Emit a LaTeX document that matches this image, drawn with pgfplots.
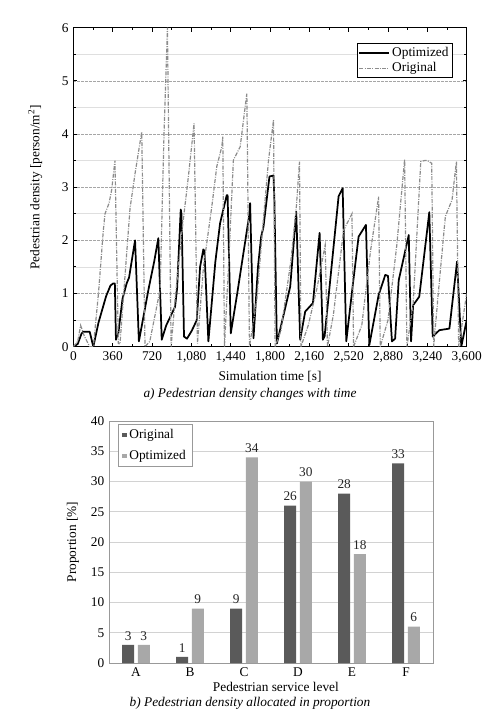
\documentclass[border=0pt]{standalone}
\usepackage{fontspec}
\setmainfont{Liberation Serif}
\usepackage{pgfplots}
\usepackage{pgfplotstable}
\pgfplotsset{compat=1.18}
\definecolor{darkbar}{HTML}{5A5A5A}
\definecolor{lightbar}{HTML}{A8A8A8}
\definecolor{origline}{HTML}{8C8C8C}

\pgfplotstableread{
t v
0 0
40 0.05
76 0.25
92 0.28
150 0.28
183 0
230 0.45
300 0.95
340 1.15
366 1.19
380 1.19
390 0.13
400 0.2
410 0.22
450 0.9
488 1.19
500 1.25
510 1.3
565 2.0
600 0.1
690 1.1
740 1.6
778 2.04
809 0.13
850 0.4
931 0.75
950 1.1
983 2.58
990 2.5
1013 0.19
1040 0.15
1084 0.3
1130 0.5
1160 1.5
1190 1.83
1200 1.8
1236 0.1
1300 1.6
1343 2.32
1404 2.85
1412 2.85
1441 0.25
1500 1.0
1612 2.5
1618 2.7
1649 0.16
1690 1.5
1719 2.07
1740 2.25
1795 3.2
1832 3.22
1840 2.76
1863 0.06
1985 1.13
2040 2.54
2076 0.13
2122 0.66
2193 0.82
2254 2.14
2284 0.13
2300 0.2
2428 2.83
2465 2.98
2498 0.1
2560 1.2
2611 2.07
2678 2.29
2709 0.03
2794 0.97
2855 1.35
2880 1.33
2916 0.1
2945 0.15
2978 1.25
3070 2.1
3091 0.1
3110 0.78
3166 0.94
3258 2.53
3289 0.19
3350 0.31
3442 0.34
3512 1.6
3551 0
3600 0.5
}\optdata

\pgfplotstableread{
t v
0 0
40 0.1
67 0.4
100 0.2
150 0
183 0
230 1.0
275 2.2
290 2.5
327 2.7
351 2.95
381 3.5
412 0.06
427 0.05
488 1.75
519 2.6
565 3.26
626 4.04
656 0
700 0.1
733 0.44
794 1.07
830 4.0
861 6.0
895 0
931 0.88
992 2.13
1053 3.2
1105 4.2
1136 0.06
1191 1.5
1267 2.63
1313 3.39
1359 3.76
1368 3.95
1383 0
1420 1.5
1465 3.51
1527 3.76
1588 4.76
1612 0
1679 0.88
1740 2.4
1786 3.5
1832 4.26
1847 0
1900 0.3
1990 1.6
2040 2.6
2070 3.48
2083 0
2150 0.4
2230 1.1
2305 1.91
2326 0
2380 0.6
2474 2.19
2550 2.5
2565 0
2640 0.4
2720 1.8
2794 2.82
2809 0
2880 0.5
2960 1.9
3032 3.52
3053 0
3110 0.8
3180 3.48
3213 3.5
3240 3.5
3280 3.45
3298 0
3340 1.0
3405 2.45
3466 2.76
3506 3.48
3527 0
3600 1.0
}\origdata

\pgfplotstableread{
x orig opt
0 3 3
1 1 9
2 9 34
3 26 30
4 28 18
5 33 6
}\bardata

\begin{document}
\begin{tikzpicture}
\path[use as bounding box] (0,0) rectangle (375pt,-537pt);

% ---------- top chart ----------
\begin{axis}[
  at={(55pt,-260pt)}, anchor=south west,
  scale only axis, width=295pt, height=239.25pt,
  xmin=0, xmax=3600, ymin=0, ymax=6,
  xtick={0,360,...,3600}, ytick={0,1,...,6},
  minor x tick num=1, minor y tick num=1,
  tick align=inside,
  major tick length=3pt, minor tick length=2pt,
  axis line style={black, line width=0.9pt},
  every tick/.style={black, line width=0.7pt},
  ymajorgrids, yminorgrids,
  major grid style={gray!70, dash pattern=on 2pt off 1pt, line width=0.5pt},
  minor grid style={gray!25, line width=0.5pt},
  /pgf/number format/.cd, 1000 sep={,}, assume math mode=true,
  /pgfplots/.cd,
  tick label style={font=\fontsize{10}{12}\selectfont},
  xlabel={Simulation time [s]},
  ylabel={Pedestrian density [person/m\textsuperscript{2}]},
  xlabel style={at={(axis description cs:0.5,-0.094)}, anchor=center, font=\fontsize{10}{12}\selectfont},
  ylabel style={at={(axis description cs:-0.097,0.5)}, anchor=center, font=\fontsize{10}{12}\selectfont},
  legend style={at={(axis description cs:0.965,0.952)}, anchor=north east,
    draw=black, line width=0.6pt, font=\fontsize{10}{12}\selectfont,
    inner sep=1pt, row sep=-1pt, fill=white},
  legend cell align=left,
  legend image code/.code={\draw[#1] (0pt,0pt) -- (22pt,0pt);},
]
\addplot[black, line width=1.3pt, line join=round] table[x=t,y=v] {\optdata};
\addlegendentry{Optimized}
\addplot[origline, line width=0.9pt, dash pattern=on 3pt off 1pt on 0.7pt off 1pt] table[x=t,y=v] {\origdata};
\addlegendentry{Original}
\end{axis}

\node[font=\itshape\fontsize{10}{12}\selectfont] at (187.5pt,-295.5pt) {a) Pedestrian density changes with time};

% ---------- bottom chart ----------
\begin{axis}[
  at={(81.75pt,-497.25pt)}, anchor=south west,
  scale only axis, width=243pt, height=181.5pt,
  ybar=2.7pt, bar width=9pt,
  xmin=-0.5, xmax=5.5, ymin=0, ymax=40,
  xtick=data, xticklabels={A,B,C,D,E,F},
  ytick={0,5,...,40},
  major tick length=0pt,
  axis line style={gray!80, line width=0.6pt},
  ymajorgrids,
  major grid style={gray!35, line width=0.7pt},
  /pgf/number format/assume math mode=true,
  tick label style={font=\fontsize{10}{12}\selectfont},
  xlabel={Pedestrian service level},
  ylabel={Proportion [\%]},
  xlabel style={at={(axis description cs:0.515,-0.099)}, anchor=center, font=\fontsize{10}{12}\selectfont},
  ylabel style={at={(axis description cs:-0.111,0.5)}, anchor=center, font=\fontsize{10}{12}\selectfont},
  nodes near coords,
  nodes near coords style={font=\fontsize{10}{12}\selectfont, black!85},
  legend style={at={(axis description cs:0.028,0.988)}, anchor=north west,
    draw=gray!80, line width=0.6pt, font=\fontsize{10}{12}\selectfont,
    inner xsep=3pt, inner ysep=2pt, row sep=3pt, fill=white},
  legend cell align=left,
  legend image code/.code={\fill[#1] (1pt,-1.6pt) rectangle (4.2pt,1.6pt);},
]
\addplot[fill=darkbar, draw=none] table[x=x,y=orig] {\bardata};
\addlegendentry{Original}
\addplot[fill=lightbar, draw=none] table[x=x,y=opt] {\bardata};
\addlegendentry{Optimized}
\end{axis}

\node[font=\itshape\fontsize{10}{12}\selectfont] at (187.5pt,-527.25pt) {b) Pedestrian density allocated in proportion};
\end{tikzpicture}
\end{document}
